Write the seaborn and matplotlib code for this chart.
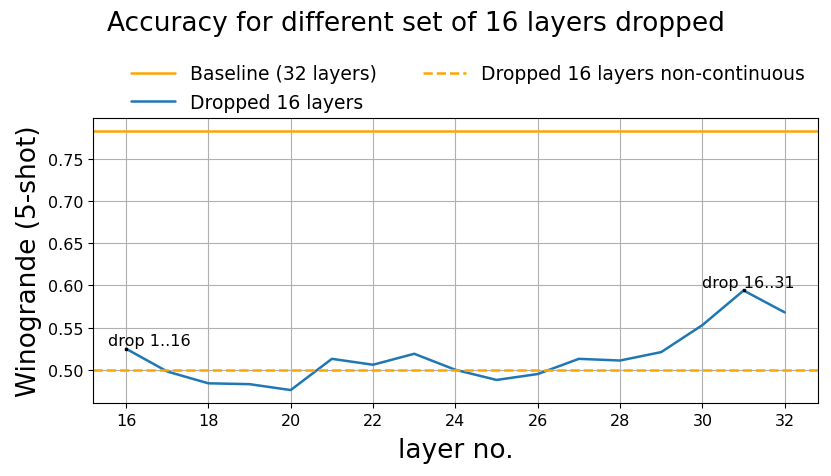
import matplotlib
matplotlib.use("Agg")
import matplotlib.pyplot as plt
import pandas as pd
import seaborn as sns

# values
layers = [16, 17, 18, 19, 20, 21, 22, 23, 24, 25, 26, 27, 28, 29, 30, 31, 32]
accuracy = [0.525, 0.498, 0.484, 0.483, 0.476, 0.513, 0.506, 0.519, 0.500,
            0.488, 0.495, 0.513, 0.511, 0.521, 0.553, 0.594, 0.568]
baseline = 0.783
non_continuous = 0.4995

sns.set_style("ticks")
plt.rcParams["font.family"] = ["DejaVu Sans"]
plt.rcParams.update({"text.color": "black", "axes.labelcolor": "black",
                     "xtick.color": "black", "ytick.color": "black"})

df = pd.DataFrame({"layer": layers, "acc": accuracy})

fig, ax = plt.subplots(figsize=(8.31, 4.77), dpi=100)
ax.axhline(baseline, color="orange", lw=1.8, label="Baseline (32 layers)")
sns.lineplot(data=df, x="layer", y="acc", ax=ax, color="#1f77b4", lw=1.8,
             label="Dropped 16 layers")
ax.axhline(non_continuous, color="orange", lw=1.8, ls="--",
           label="Dropped 16 layers non-continuous")

# mark the two extreme windows
ax.plot(layers[0], accuracy[0], "s", color="black", ms=2)
ax.text(15.57, 0.529, "drop 1..16", fontsize=11.5)
ax.plot(layers[15], accuracy[15], "s", color="black", ms=2)
ax.text(29.98, 0.598, "drop 16..31", fontsize=11.5)

ax.grid(True, color="#b0b0b0", lw=0.8)
ax.set_xticks(range(16, 33, 2))
ax.tick_params(labelsize=11.5)
ax.set_xlabel("layer no.", fontsize=19, labelpad=7)
ax.set_ylabel("Winogrande (5-shot)", fontsize=19)
for s in ax.spines.values():
    s.set_color("black")

handles, labels = ax.get_legend_handles_labels()
order = [labels.index("Baseline (32 layers)"), labels.index("Dropped 16 layers"),
         labels.index("Dropped 16 layers non-continuous")]
ax.legend([handles[i] for i in order], [labels[i] for i in order], ncol=2,
          frameon=False, fontsize=13.5, loc="lower center",
          bbox_to_anchor=(0.518, 0.963), columnspacing=2.5, labelspacing=0.5,
          handlelength=2.3)

fig.suptitle("Accuracy for different set of 16 layers dropped", fontsize=19,
             y=0.977)
fig.subplots_adjust(left=0.112, right=0.984, top=0.7505, bottom=0.153)
fig.savefig("out.png", dpi=100)
